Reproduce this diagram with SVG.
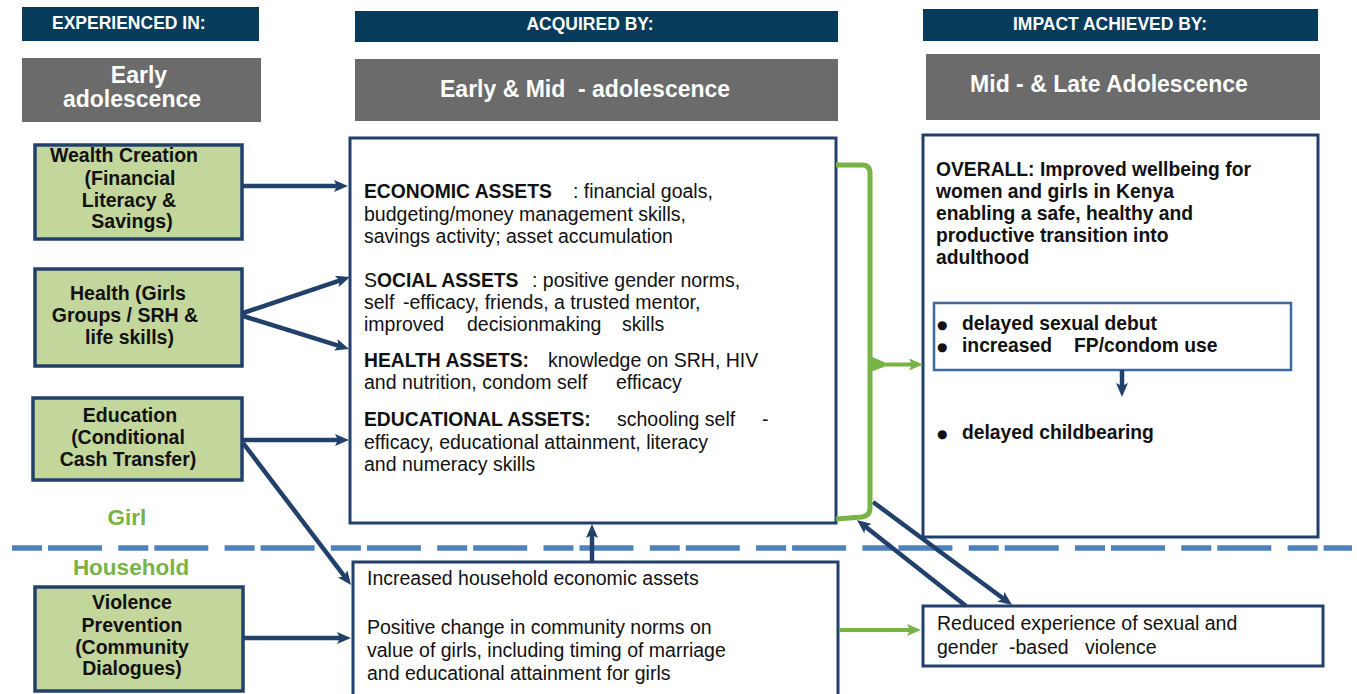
<svg xmlns="http://www.w3.org/2000/svg" width="1357" height="694" viewBox="0 0 1357 694">
  <defs>
    <style>
      text { font-family: "Liberation Sans", Arial, sans-serif; fill: #111; }
      .hdr { fill: #073b5c; }
      .gry { fill: #6b6b6b; }
      .ht { font-size: 17.5px; font-weight: bold; fill: #fff; }
      .gt { font-size: 23px; font-weight: bold; fill: #fff; }
      .node rect { fill: #c3d69b; stroke: #22406c; stroke-width: 3.5; }
      .nt { font-size: 19.5px; font-weight: bold; text-anchor: middle; }
      .box { fill: #fff; stroke: #22406c; stroke-width: 3; }
      .inner { fill: #fff; stroke: #3f6aa0; stroke-width: 2.5; }
      .t { font-size: 19.5px; }
      .b { font-size: 19.3px; font-weight: bold; }
      .lvl { font-size: 22.5px; font-weight: bold; fill: #77b347; text-anchor: middle; }
      .dot { font-family: "DejaVu Sans", sans-serif; font-size: 12px; }
      .nv { stroke: #22406c; stroke-width: 4.5; fill: none; marker-end: url(#arrNavy); }
      .gr { stroke: #78b445; stroke-width: 4; fill: none; marker-end: url(#arrGreen); }
    </style>
    <marker id="arrNavy" markerUnits="userSpaceOnUse" viewBox="0 0 14 12" markerWidth="14" markerHeight="12" refX="6" refY="6" orient="auto">
      <path d="M0,0 L14,6 L0,12 L3,6 z" fill="#22406c"/>
    </marker>
    <marker id="arrGreen" markerUnits="userSpaceOnUse" viewBox="0 0 14 12" markerWidth="14" markerHeight="12" refX="6" refY="6" orient="auto">
      <path d="M0,0 L14,6 L0,12 L3,6 z" fill="#78b445"/>
    </marker>
  </defs>

  <rect width="1357" height="694" fill="#fff"/>

  <!-- column headers -->
  <g id="col-experienced">
    <rect class="hdr" x="22" y="7" width="237" height="34"/>
    <text class="ht" x="52" y="28.5">EXPERIENCED IN:</text>
    <rect class="gry" x="22" y="58" width="239" height="64"/>
    <text class="gt" x="139" y="83" text-anchor="middle">Early</text>
    <text class="gt" x="132" y="106.5" text-anchor="middle">adolescence</text>
  </g>
  <g id="col-acquired">
    <rect class="hdr" x="355" y="11" width="483" height="31"/>
    <text class="ht" x="590" y="30" text-anchor="middle">ACQUIRED BY:</text>
    <rect class="gry" x="355" y="59" width="483" height="62"/>
    <text class="gt" x="440" y="97">Early &amp; Mid</text>
    <text class="gt" x="578" y="97">- adolescence</text>
  </g>
  <g id="col-impact">
    <rect class="hdr" x="923" y="9" width="395" height="32"/>
    <text class="ht" x="1110" y="29.5" text-anchor="middle">IMPACT ACHIEVED BY:</text>
    <rect class="gry" x="926" y="54" width="394" height="66"/>
    <text class="gt" x="1109" y="92" text-anchor="middle">Mid - &amp; Late Adolescence</text>
  </g>

  <!-- girl / household divider -->
  <g id="divider">
    <line x1="12" y1="548" x2="1352" y2="548" stroke="#4f81bd" stroke-width="5.5" stroke-dasharray="30 6 54 16.3"/>
    <text class="lvl" x="127" y="525">Girl</text>
    <text class="lvl" x="131" y="575">Household</text>
  </g>

  <!-- intervention nodes -->
  <g id="node-wealth" class="node">
    <rect x="35" y="145" width="207" height="94"/>
    <text class="nt" x="124" y="162">Wealth Creation</text>
    <text class="nt" x="130" y="185">(Financial</text>
    <text class="nt" x="129" y="207">Literacy &amp;</text>
    <text class="nt" x="132" y="228">Savings)</text>
  </g>
  <g id="node-health" class="node">
    <rect x="35" y="269" width="207" height="97"/>
    <text class="nt" x="128" y="300">Health (Girls</text>
    <text class="nt" x="125" y="322">Groups / SRH &amp;</text>
    <text class="nt" x="129.5" y="344">life skills)</text>
  </g>
  <g id="node-education" class="node">
    <rect x="33" y="398" width="209" height="82"/>
    <text class="nt" x="130" y="422">Education</text>
    <text class="nt" x="128" y="444">(Conditional</text>
    <text class="nt" x="128" y="466">Cash Transfer)</text>
  </g>
  <g id="node-violence" class="node">
    <rect x="35" y="587" width="208" height="104"/>
    <text class="nt" x="132" y="609">Violence</text>
    <text class="nt" x="132" y="632">Prevention</text>
    <text class="nt" x="132" y="654">(Community</text>
    <text class="nt" x="132" y="675">Dialogues)</text>
  </g>

  <!-- assets box -->
  <g id="node-assets">
    <rect class="box" x="350" y="138" width="486" height="385"/>
    <text class="b" x="364" y="198">ECONOMIC ASSETS</text>
    <text class="t" x="573" y="198">: financial goals,</text>
    <text class="t" x="364" y="221">budgeting/money management skills,</text>
    <text class="t" x="364" y="243">savings activity; asset accumulation</text>
    <text x="364" y="287"><tspan class="t">S</tspan><tspan class="b">OCIAL ASSETS</tspan></text>
    <text class="t" x="532" y="287">: positive gender norms,</text>
    <text class="t" x="364" y="309">self</text>
    <text class="t" x="403" y="309">-efficacy, friends, a trusted mentor,</text>
    <text class="t" x="364" y="331">improved</text>
    <text class="t" x="467" y="331">decisionmaking</text>
    <text class="t" x="622" y="331">skills</text>
    <text class="b" x="364" y="367">HEALTH ASSETS:</text>
    <text class="t" x="548" y="367">knowledge on SRH, HIV</text>
    <text class="t" x="364" y="389">and nutrition, condom self</text>
    <text class="t" x="616" y="389">efficacy</text>
    <text class="b" x="364" y="426">EDUCATIONAL ASSETS:</text>
    <text class="t" x="617" y="426">schooling self</text>
    <text class="t" x="762" y="426">-</text>
    <text class="t" x="364" y="449">efficacy, educational attainment, literacy</text>
    <text class="t" x="364" y="471">and numeracy skills</text>
  </g>

  <!-- household outcomes box -->
  <g id="node-household">
    <rect class="box" x="353" y="562" width="485" height="140"/>
    <text class="t" x="367" y="585">Increased household economic assets</text>
    <text class="t" x="367" y="634">Positive change in community norms on</text>
    <text class="t" x="367" y="657">value of girls, including timing of marriage</text>
    <text class="t" x="367" y="680">and educational attainment for girls</text>
  </g>

  <!-- impact box -->
  <g id="node-impact">
    <rect class="box" x="923" y="135" width="395" height="402"/>
    <text class="b" x="936" y="176">OVERALL: Improved wellbeing for</text>
    <text class="b" x="936" y="198">women and girls in Kenya</text>
    <text class="b" x="936" y="220">enabling a safe, healthy and</text>
    <text class="b" x="936" y="242">productive transition into</text>
    <text class="b" x="936" y="264">adulthood</text>
    <rect class="inner" x="934" y="303" width="357" height="67"/>
    <text class="dot" x="937" y="329">●</text>
    <text class="b" x="962" y="330">delayed sexual debut</text>
    <text class="dot" x="937" y="351">●</text>
    <text class="b" x="962" y="352">increased</text>
    <text class="b" x="1074" y="352">FP/condom use</text>
    <text class="dot" x="937" y="438">●</text>
    <text class="b" x="962" y="439">delayed childbearing</text>
  </g>

  <!-- violence outcome box -->
  <g id="node-gbv">
    <rect class="box" x="923" y="606" width="400" height="60"/>
    <text class="t" x="937" y="630">Reduced experience of sexual and</text>
    <text class="t" x="937" y="654">gender</text>
    <text class="t" x="1009" y="654">-based</text>
    <text class="t" x="1085" y="654">violence</text>
  </g>

  <!-- connectors -->
  <g id="connectors">
    <line class="nv" x1="242" y1="186" x2="340" y2="186"/>
    <line class="nv" x1="243" y1="313" x2="342.4" y2="279.6"/>
    <line class="nv" x1="243" y1="316" x2="341.4" y2="346.6"/>
    <line class="nv" x1="242" y1="440" x2="341" y2="440"/>
    <line class="nv" x1="243" y1="443" x2="346.2" y2="578.6"/>
    <line class="nv" x1="243" y1="638" x2="343" y2="638"/>
    <line class="nv" x1="592" y1="561" x2="592" y2="532" stroke-width="5"/>
    <line class="nv" x1="873" y1="502" x2="1005.6" y2="600.2"/>
    <line class="nv" x1="966" y1="606" x2="863.3" y2="525"/>
    <line class="nv" x1="1122" y1="370" x2="1122" y2="389" stroke-width="5"/>
    <line class="gr" x1="839" y1="630" x2="913" y2="630"/>
    <!-- bracket gathering the assets into the impact box -->
    <path d="M836,165 H862 Q870,165 870,173 V508 Q870,516 862,517 L836,519" fill="none" stroke="#78b445" stroke-width="5"/>
    <path d="M870,356 L884,362 L884,367 L870,372 z" fill="#78b445"/>
    <line class="gr" x1="870" y1="364.5" x2="915" y2="364.5"/>
  </g>
</svg>
